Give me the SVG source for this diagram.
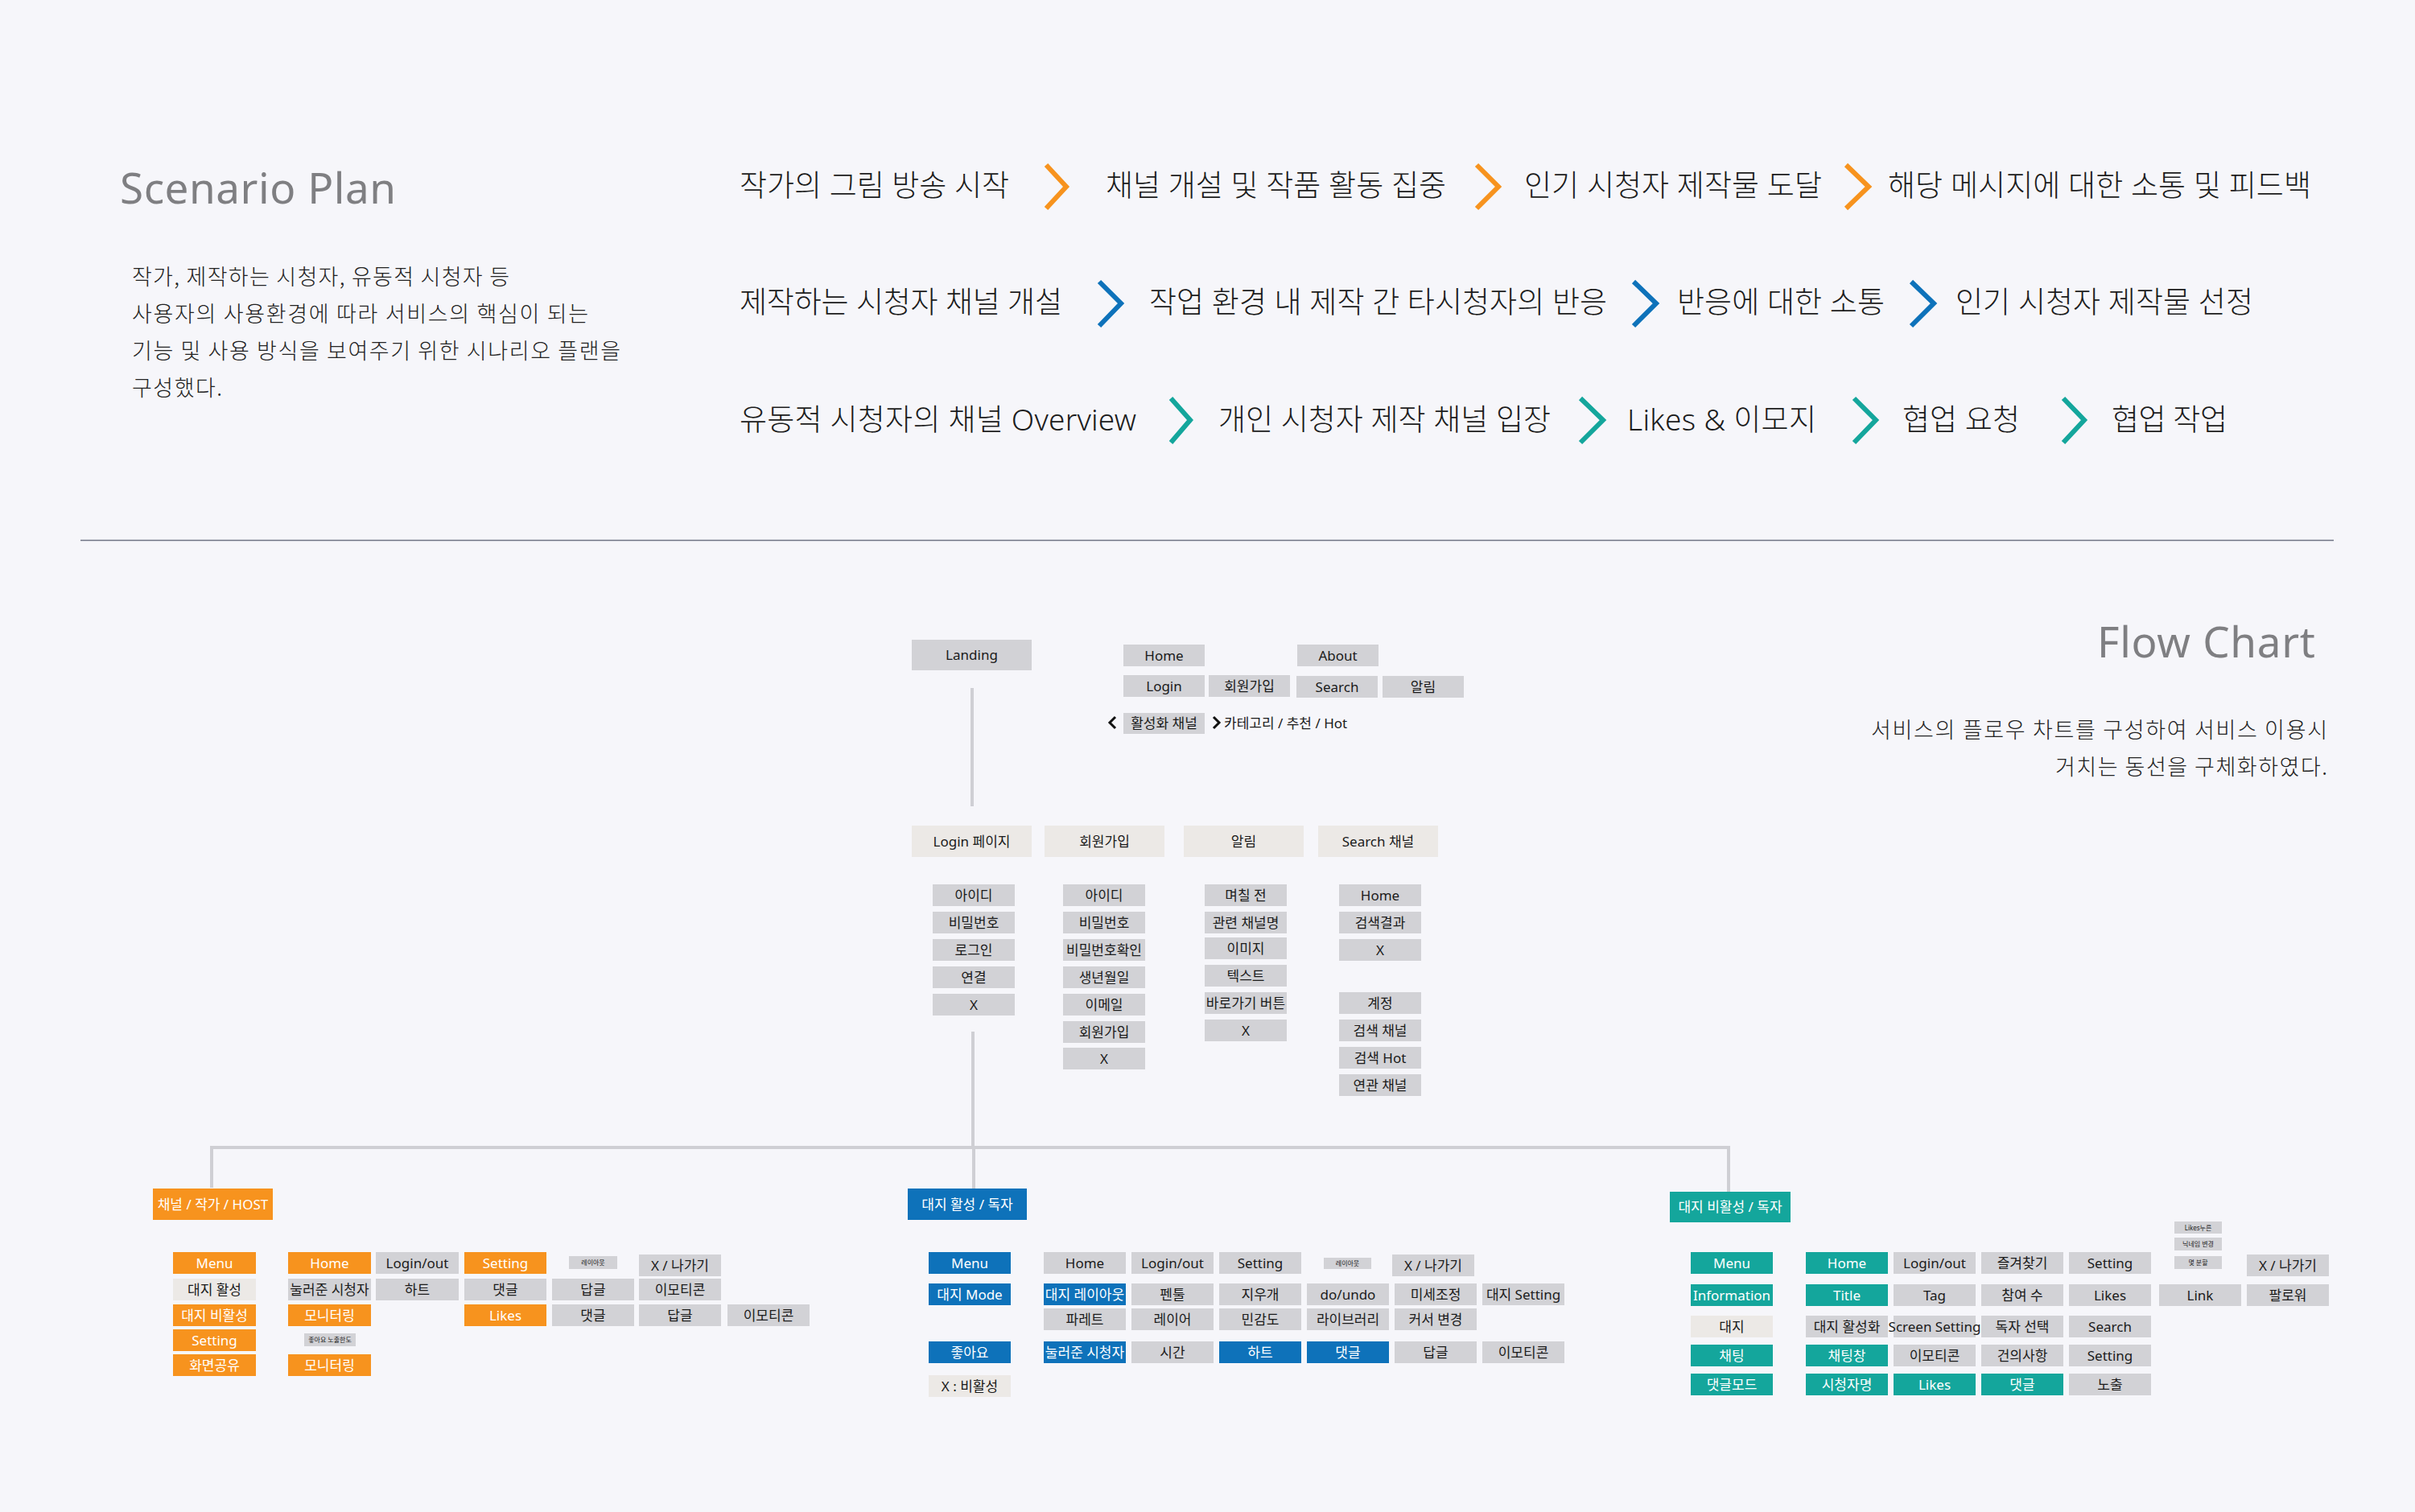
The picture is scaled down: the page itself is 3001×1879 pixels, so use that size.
<svg xmlns="http://www.w3.org/2000/svg" width="3001" height="1879" viewBox="0 0 3001 1879">
<style>
  .ttl{font-family:'Noto Sans','Open Sans','Noto Sans CJK KR',sans-serif;font-size:53px;fill:#7f7f82}
  .par{font-family:'Noto Sans CJK KR','Noto Sans',sans-serif;font-size:27px;font-weight:300;fill:#222}
  .scn{font-family:'Noto Sans','Noto Sans CJK KR',sans-serif;font-size:37px;font-weight:300;fill:#1c1c1c}
  .chev{fill:none;stroke-width:6;stroke-linecap:butt;stroke-linejoin:miter}
  .c-or{stroke:#F7931E}.c-bl{stroke:#0E72BA}.c-te{stroke:#14A69C}
  .gr{fill:#D2D2D6}.be{fill:#ECE9E6}.or{fill:#F7931E}.bl{fill:#0E72BA}.te{fill:#14A69C}
  .l{font-family:'Noto Sans','Noto Sans CJK KR',sans-serif;font-size:17px;text-anchor:middle;fill:#1b1b1b}
  .w{fill:#fff}
  .s{font-size:8px}
  .conn{fill:none;stroke:#CFCFD4;stroke-width:4}
</style>
<rect width="3001" height="1879" fill="#F6F6FA"/>

<!-- Scenario plan block -->
<text class="ttl" x="149" y="253" textLength="343">Scenario Plan</text>
<g id="scenario-desc">
  <text class="par" x="164" y="354" textLength="469">작가, 제작하는 시청자, 유동적 시청자 등</text>
  <text class="par" x="164" y="400" textLength="567">사용자의 사용환경에 따라 서비스의 핵심이 되는</text>
  <text class="par" x="164" y="446" textLength="607">기능 및 사용 방식을 보여주기 위한 시나리오 플랜을</text>
  <text class="par" x="164" y="492" textLength="112">구성했다.</text>
</g>

<g id="scenario-rows">
  <text class="scn" x="919" y="244" textLength="335">작가의 그림 방송 시작</text>
  <text class="scn" x="1374" y="244" textLength="423">채널 개설 및 작품 활동 집중</text>
  <text class="scn" x="1894" y="244" textLength="370">인기 시청자 제작물 도달</text>
  <text class="scn" x="2346" y="244" textLength="526">해당 메시지에 대한 소통 및 피드백</text>

  <text class="scn" x="919" y="389" textLength="401">제작하는 시청자 채널 개설</text>
  <text class="scn" x="1428" y="389" textLength="569">작업 환경 내 제작 간 타시청자의 반응</text>
  <text class="scn" x="2084" y="389" textLength="258">반응에 대한 소통</text>
  <text class="scn" x="2430" y="389" textLength="370">인기 시청자 제작물 선정</text>

  <text class="scn" x="919" y="535" textLength="493">유동적 시청자의 채널 Overview</text>
  <text class="scn" x="1514" y="535" textLength="413">개인 시청자 제작 채널 입장</text>
  <text class="scn" x="2022" y="535" textLength="235">Likes &amp; 이모지</text>
  <text class="scn" x="2364" y="535" textLength="146">협업 요청</text>
  <text class="scn" x="2624" y="535" textLength="144">협업 작업</text>
</g>

<g id="scenario-chevrons">
  <polyline class="chev c-or" points="1300,205 1325,232 1300,259"/>
  <polyline class="chev c-or" points="1835,205 1862,232 1835,259"/>
  <polyline class="chev c-or" points="2294,205 2322,232 2294,259"/>

  <polyline class="chev c-bl" points="1366,350 1393,377 1366,405"/>
  <polyline class="chev c-bl" points="2030,350 2058,377 2030,405"/>
  <polyline class="chev c-bl" points="2375,350 2403,377 2375,405"/>

  <polyline class="chev c-te" points="1455,495 1479,522 1455,550"/>
  <polyline class="chev c-te" points="1964,495 1992,522 1964,550"/>
  <polyline class="chev c-te" points="2304,495 2331,522 2304,550"/>
  <polyline class="chev c-te" points="2564,495 2590,522 2564,550"/>
</g>

<line x1="100" y1="671.5" x2="2900" y2="671.5" stroke="#6E7383" stroke-width="1.5"/>

<!-- Flow chart block -->
<text class="ttl" x="2877" y="817" text-anchor="end" font-size="54" textLength="271">Flow Chart</text>
<g id="flow-desc">
  <text class="par" x="2892" y="917" text-anchor="end" textLength="567">서비스의 플로우 차트를 구성하여 서비스 이용시</text>
  <text class="par" x="2892" y="963" text-anchor="end" textLength="338">거치는 동선을 구체화하였다.</text>
</g>

<g id="connectors">
  <line class="conn" x1="1208" y1="855" x2="1208" y2="1002"/>
  <line class="conn" x1="1209" y1="1282" x2="1209" y2="1426"/>
  <path class="conn" d="M263,1476 V1426 H2148 V1481"/>
  <line class="conn" x1="1210" y1="1426" x2="1210" y2="1477"/>
</g>

<!-- landing / top navigation -->
<g id="landing"><rect class="gr" x="1133" y="795" width="149" height="38"/><text class="l" x="1207.5" y="820">Landing</text></g>
<g id="nav-home"><rect class="gr" x="1396" y="801" width="101" height="27"/><text class="l" x="1446.5" y="820.5">Home</text></g>
<g id="nav-about"><rect class="gr" x="1612" y="801" width="101" height="27"/><text class="l" x="1662.5" y="820.5">About</text></g>
<g id="nav-login"><rect class="gr" x="1396" y="839" width="101" height="27"/><text class="l" x="1446.5" y="858.5">Login</text></g>
<g id="nav-join"><rect class="gr" x="1502" y="839" width="101" height="27"/><text class="l" x="1552.5" y="858.5">회원가입</text></g>
<g id="nav-search"><rect class="gr" x="1611" y="840" width="101" height="27"/><text class="l" x="1661.5" y="859.5">Search</text></g>
<g id="nav-alarm"><rect class="gr" x="1718" y="840" width="101" height="27"/><text class="l" x="1768.5" y="859.5">알림</text></g>
<g id="nav-channel">
  <polyline points="1386,891 1379,898 1386,905" fill="none" stroke="#111" stroke-width="3"/>
  <rect class="gr" x="1396" y="886" width="101" height="26"/><text class="l" x="1446.5" y="905">활성화 채널</text>
  <polyline points="1508,891 1515,898 1508,905" fill="none" stroke="#111" stroke-width="3"/>
  <text class="l" x="1521" y="905" style="text-anchor:start">카테고리 / 추천 / Hot</text>
</g>

<!-- page headers -->
<g id="h-login"><rect class="be" x="1133" y="1026" width="149" height="39"/><text class="l" x="1207.5" y="1051.5">Login 페이지</text></g>
<g id="h-join"><rect class="be" x="1298" y="1026" width="149" height="39"/><text class="l" x="1372.5" y="1051.5">회원가입</text></g>
<g id="h-alarm"><rect class="be" x="1471" y="1026" width="149" height="39"/><text class="l" x="1545.5" y="1051.5">알림</text></g>
<g id="h-search"><rect class="be" x="1638" y="1026" width="149" height="39"/><text class="l" x="1712.5" y="1051.5">Search 채널</text></g>

<!-- login page items -->
<g id="lg-1"><rect class="gr" x="1159" y="1099" width="102" height="27"/><text class="l" x="1210" y="1118.5">아이디</text></g>
<g id="lg-2"><rect class="gr" x="1159" y="1133" width="102" height="27"/><text class="l" x="1210" y="1152.5">비밀번호</text></g>
<g id="lg-3"><rect class="gr" x="1159" y="1167" width="102" height="27"/><text class="l" x="1210" y="1186.5">로그인</text></g>
<g id="lg-4"><rect class="gr" x="1159" y="1201" width="102" height="27"/><text class="l" x="1210" y="1220.5">연결</text></g>
<g id="lg-5"><rect class="gr" x="1159" y="1235" width="102" height="27"/><text class="l" x="1210" y="1254.5">X</text></g>

<!-- join items -->
<g id="jn-1"><rect class="gr" x="1321" y="1099" width="102" height="27"/><text class="l" x="1372" y="1118.5">아이디</text></g>
<g id="jn-2"><rect class="gr" x="1321" y="1133" width="102" height="27"/><text class="l" x="1372" y="1152.5">비밀번호</text></g>
<g id="jn-3"><rect class="gr" x="1321" y="1167" width="102" height="27"/><text class="l" x="1372" y="1186.5">비밀번호확인</text></g>
<g id="jn-4"><rect class="gr" x="1321" y="1201" width="102" height="27"/><text class="l" x="1372" y="1220.5">생년월일</text></g>
<g id="jn-5"><rect class="gr" x="1321" y="1235" width="102" height="27"/><text class="l" x="1372" y="1254.5">이메일</text></g>
<g id="jn-6"><rect class="gr" x="1321" y="1269" width="102" height="27"/><text class="l" x="1372" y="1288.5">회원가입</text></g>
<g id="jn-7"><rect class="gr" x="1321" y="1302" width="102" height="27"/><text class="l" x="1372" y="1321.5">X</text></g>

<!-- alarm items -->
<g id="al-1"><rect class="gr" x="1497" y="1099" width="102" height="27"/><text class="l" x="1548" y="1118.5">며칠 전</text></g>
<g id="al-2"><rect class="gr" x="1497" y="1133" width="102" height="27"/><text class="l" x="1548" y="1152.5">관련 채널명</text></g>
<g id="al-3"><rect class="gr" x="1497" y="1165" width="102" height="27"/><text class="l" x="1548" y="1184.5">이미지</text></g>
<g id="al-4"><rect class="gr" x="1497" y="1199" width="102" height="27"/><text class="l" x="1548" y="1218.5">텍스트</text></g>
<g id="al-5"><rect class="gr" x="1497" y="1233" width="102" height="27"/><text class="l" x="1548" y="1252.5">바로가기 버튼</text></g>
<g id="al-6"><rect class="gr" x="1497" y="1267" width="102" height="27"/><text class="l" x="1548" y="1286.5">X</text></g>

<!-- search items -->
<g id="sc-1"><rect class="gr" x="1664" y="1099" width="102" height="27"/><text class="l" x="1715" y="1118.5">Home</text></g>
<g id="sc-2"><rect class="gr" x="1664" y="1133" width="102" height="27"/><text class="l" x="1715" y="1152.5">검색결과</text></g>
<g id="sc-3"><rect class="gr" x="1664" y="1167" width="102" height="27"/><text class="l" x="1715" y="1186.5">X</text></g>
<g id="sc-4"><rect class="gr" x="1664" y="1233" width="102" height="27"/><text class="l" x="1715" y="1252.5">계정</text></g>
<g id="sc-5"><rect class="gr" x="1664" y="1267" width="102" height="27"/><text class="l" x="1715" y="1286.5">검색 채널</text></g>
<g id="sc-6"><rect class="gr" x="1664" y="1301" width="102" height="27"/><text class="l" x="1715" y="1320.5">검색 Hot</text></g>
<g id="sc-7"><rect class="gr" x="1664" y="1335" width="102" height="27"/><text class="l" x="1715" y="1354.5">연관 채널</text></g>

<!-- channel / author / host -->
<g id="o-head"><rect class="or" x="190" y="1477" width="149" height="39"/><text class="l w" x="264.5" y="1502.5">채널 / 작가 / HOST</text></g>
<g id="o-menu"><rect class="or" x="215" y="1556" width="103" height="27"/><text class="l w" x="266.5" y="1575.5">Menu</text></g>
<g id="o-home"><rect class="or" x="358" y="1556" width="103" height="27"/><text class="l w" x="409.5" y="1575.5">Home</text></g>
<g id="o-login"><rect class="gr" x="467" y="1556" width="103" height="27"/><text class="l" x="518.5" y="1575.5">Login/out</text></g>
<g id="o-setting"><rect class="or" x="577" y="1556" width="102" height="27"/><text class="l w" x="628" y="1575.5">Setting</text></g>
<g id="o-layout"><rect class="gr" x="707" y="1561" width="60" height="16"/><text class="l s" x="737" y="1572">레이아웃</text></g>
<g id="o-exit"><rect class="gr" x="794" y="1559" width="102" height="27"/><text class="l" x="845" y="1578.5">X / 나가기</text></g>

<g id="o-active"><rect class="be" x="215" y="1589" width="103" height="27"/><text class="l" x="266.5" y="1608.5">대지 활성</text></g>
<g id="o-viewers"><rect class="gr" x="358" y="1589" width="103" height="27"/><text class="l" x="409.5" y="1608.5">눌러준 시청자</text></g>
<g id="o-heart"><rect class="gr" x="467" y="1589" width="103" height="27"/><text class="l" x="518.5" y="1608.5">하트</text></g>
<g id="o-comment"><rect class="gr" x="577" y="1589" width="102" height="27"/><text class="l" x="628" y="1608.5">댓글</text></g>
<g id="o-reply"><rect class="gr" x="686" y="1589" width="102" height="27"/><text class="l" x="737" y="1608.5">답글</text></g>
<g id="o-emoji"><rect class="gr" x="794" y="1589" width="102" height="27"/><text class="l" x="845" y="1608.5">이모티콘</text></g>

<g id="o-inactive"><rect class="or" x="215" y="1621" width="103" height="27"/><text class="l w" x="266.5" y="1640.5">대지 비활성</text></g>
<g id="o-monitor1"><rect class="or" x="358" y="1621" width="103" height="27"/><text class="l w" x="409.5" y="1640.5">모니터링</text></g>
<g id="o-likes"><rect class="or" x="577" y="1621" width="102" height="27"/><text class="l w" x="628" y="1640.5">Likes</text></g>
<g id="o-likes-comment"><rect class="gr" x="686" y="1621" width="102" height="27"/><text class="l" x="737" y="1640.5">댓글</text></g>
<g id="o-likes-reply"><rect class="gr" x="794" y="1621" width="102" height="27"/><text class="l" x="845" y="1640.5">답글</text></g>
<g id="o-likes-emoji"><rect class="gr" x="904" y="1621" width="102" height="27"/><text class="l" x="955" y="1640.5">이모티콘</text></g>

<g id="o-setting2"><rect class="or" x="215" y="1652" width="103" height="27"/><text class="l w" x="266.5" y="1671.5">Setting</text></g>
<g id="o-like-limit"><rect class="gr" x="378" y="1657" width="64" height="16"/><text class="l s" x="410" y="1668">좋아요 노출한도</text></g>
<g id="o-share"><rect class="or" x="215" y="1683" width="103" height="27"/><text class="l w" x="266.5" y="1702.5">화면공유</text></g>
<g id="o-monitor2"><rect class="or" x="358" y="1683" width="103" height="27"/><text class="l w" x="409.5" y="1702.5">모니터링</text></g>

<!-- canvas active / reader -->
<g id="b-head"><rect class="bl" x="1128" y="1477" width="148" height="39"/><text class="l w" x="1202" y="1502.5">대지 활성 / 독자</text></g>
<g id="b-menu"><rect class="bl" x="1154" y="1556" width="102" height="27"/><text class="l w" x="1205" y="1575.5">Menu</text></g>
<g id="b-home"><rect class="gr" x="1297" y="1556" width="102" height="27"/><text class="l" x="1348" y="1575.5">Home</text></g>
<g id="b-login"><rect class="gr" x="1406" y="1556" width="102" height="27"/><text class="l" x="1457" y="1575.5">Login/out</text></g>
<g id="b-setting"><rect class="gr" x="1515" y="1556" width="102" height="27"/><text class="l" x="1566" y="1575.5">Setting</text></g>
<g id="b-layout"><rect class="gr" x="1645" y="1563" width="59" height="14"/><text class="l s" x="1674.5" y="1573">레이아웃</text></g>
<g id="b-exit"><rect class="gr" x="1730" y="1559" width="102" height="27"/><text class="l" x="1781" y="1578.5">X / 나가기</text></g>

<g id="b-mode"><rect class="bl" x="1154" y="1595" width="102" height="27"/><text class="l w" x="1205" y="1614.5">대지 Mode</text></g>
<g id="b-canvas-layout"><rect class="bl" x="1297" y="1595" width="102" height="27"/><text class="l w" x="1348" y="1614.5">대지 레이아웃</text></g>
<g id="b-pen"><rect class="gr" x="1406" y="1595" width="102" height="27"/><text class="l" x="1457" y="1614.5">펜툴</text></g>
<g id="b-eraser"><rect class="gr" x="1515" y="1595" width="102" height="27"/><text class="l" x="1566" y="1614.5">지우개</text></g>
<g id="b-undo"><rect class="gr" x="1624" y="1595" width="102" height="27"/><text class="l" x="1675" y="1614.5">do/undo</text></g>
<g id="b-fine"><rect class="gr" x="1733" y="1595" width="102" height="27"/><text class="l" x="1784" y="1614.5">미세조정</text></g>
<g id="b-canvas-setting"><rect class="gr" x="1842" y="1595" width="102" height="27"/><text class="l" x="1893" y="1614.5">대지 Setting</text></g>

<g id="b-palette"><rect class="gr" x="1297" y="1626" width="102" height="27"/><text class="l" x="1348" y="1645.5">파레트</text></g>
<g id="b-layer"><rect class="gr" x="1406" y="1626" width="102" height="27"/><text class="l" x="1457" y="1645.5">레이어</text></g>
<g id="b-sense"><rect class="gr" x="1515" y="1626" width="102" height="27"/><text class="l" x="1566" y="1645.5">민감도</text></g>
<g id="b-library"><rect class="gr" x="1624" y="1626" width="102" height="27"/><text class="l" x="1675" y="1645.5">라이브러리</text></g>
<g id="b-cursor"><rect class="gr" x="1733" y="1626" width="102" height="27"/><text class="l" x="1784" y="1645.5">커서 변경</text></g>

<g id="b-like"><rect class="bl" x="1154" y="1667" width="102" height="27"/><text class="l w" x="1205" y="1686.5">좋아요</text></g>
<g id="b-viewers"><rect class="bl" x="1297" y="1667" width="102" height="27"/><text class="l w" x="1348" y="1686.5">눌러준 시청자</text></g>
<g id="b-time"><rect class="gr" x="1406" y="1667" width="102" height="27"/><text class="l" x="1457" y="1686.5">시간</text></g>
<g id="b-heart"><rect class="bl" x="1515" y="1667" width="102" height="27"/><text class="l w" x="1566" y="1686.5">하트</text></g>
<g id="b-comment"><rect class="bl" x="1624" y="1667" width="102" height="27"/><text class="l w" x="1675" y="1686.5">댓글</text></g>
<g id="b-reply"><rect class="gr" x="1733" y="1667" width="102" height="27"/><text class="l" x="1784" y="1686.5">답글</text></g>
<g id="b-emoji"><rect class="gr" x="1842" y="1667" width="102" height="27"/><text class="l" x="1893" y="1686.5">이모티콘</text></g>

<g id="b-off"><rect class="be" x="1154" y="1709" width="102" height="27"/><text class="l" x="1205" y="1728.5">X : 비활성</text></g>

<!-- canvas inactive / reader -->
<g id="t-head"><rect class="te" x="2075" y="1481" width="150" height="38"/><text class="l w" x="2150" y="1506">대지 비활성 / 독자</text></g>
<g id="t-menu"><rect class="te" x="2101" y="1556" width="102" height="27"/><text class="l w" x="2152" y="1575.5">Menu</text></g>
<g id="t-home"><rect class="te" x="2244" y="1556" width="102" height="27"/><text class="l w" x="2295" y="1575.5">Home</text></g>
<g id="t-login"><rect class="gr" x="2353" y="1556" width="102" height="27"/><text class="l" x="2404" y="1575.5">Login/out</text></g>
<g id="t-fav"><rect class="gr" x="2462" y="1556" width="102" height="27"/><text class="l" x="2513" y="1575.5">즐겨찾기</text></g>
<g id="t-setting"><rect class="gr" x="2571" y="1556" width="102" height="27"/><text class="l" x="2622" y="1575.5">Setting</text></g>
<g id="t-liked"><rect class="gr" x="2702" y="1518" width="59" height="15"/><text class="l s" x="2731.5" y="1528.5">Likes누른</text></g>
<g id="t-nick"><rect class="gr" x="2702" y="1538" width="59" height="16"/><text class="l s" x="2731.5" y="1549">닉네임 변경</text></g>
<g id="t-split"><rect class="gr" x="2702" y="1561" width="59" height="16"/><text class="l s" x="2731.5" y="1572">몇 분할</text></g>
<g id="t-exit"><rect class="gr" x="2792" y="1559" width="102" height="27"/><text class="l" x="2843" y="1578.5">X / 나가기</text></g>

<g id="t-info"><rect class="te" x="2101" y="1596" width="102" height="27"/><text class="l w" x="2152" y="1615.5">Information</text></g>
<g id="t-title"><rect class="te" x="2244" y="1596" width="102" height="27"/><text class="l w" x="2295" y="1615.5">Title</text></g>
<g id="t-tag"><rect class="gr" x="2353" y="1596" width="102" height="27"/><text class="l" x="2404" y="1615.5">Tag</text></g>
<g id="t-count"><rect class="gr" x="2462" y="1596" width="102" height="27"/><text class="l" x="2513" y="1615.5">참여 수</text></g>
<g id="t-likes"><rect class="gr" x="2571" y="1596" width="102" height="27"/><text class="l" x="2622" y="1615.5">Likes</text></g>
<g id="t-link"><rect class="gr" x="2683" y="1596" width="102" height="27"/><text class="l" x="2734" y="1615.5">Link</text></g>
<g id="t-follow"><rect class="gr" x="2792" y="1596" width="102" height="27"/><text class="l" x="2843" y="1615.5">팔로워</text></g>

<g id="t-canvas"><rect class="be" x="2101" y="1635" width="102" height="27"/><text class="l" x="2152" y="1654.5">대지</text></g>
<g id="t-activate"><rect class="gr" x="2244" y="1635" width="102" height="27"/><text class="l" x="2295" y="1654.5">대지 활성화</text></g>
<g id="t-screen"><rect class="gr" x="2353" y="1635" width="102" height="27"/><text class="l" x="2404" y="1654.5">Screen Setting</text></g>
<g id="t-pick"><rect class="gr" x="2462" y="1635" width="102" height="27"/><text class="l" x="2513" y="1654.5">독자 선택</text></g>
<g id="t-search"><rect class="gr" x="2571" y="1635" width="102" height="27"/><text class="l" x="2622" y="1654.5">Search</text></g>

<g id="t-chat"><rect class="te" x="2101" y="1671" width="102" height="27"/><text class="l w" x="2152" y="1690.5">채팅</text></g>
<g id="t-chatwin"><rect class="te" x="2244" y="1671" width="102" height="27"/><text class="l w" x="2295" y="1690.5">채팅창</text></g>
<g id="t-emoji"><rect class="gr" x="2353" y="1671" width="102" height="27"/><text class="l" x="2404" y="1690.5">이모티콘</text></g>
<g id="t-suggest"><rect class="gr" x="2462" y="1671" width="102" height="27"/><text class="l" x="2513" y="1690.5">건의사항</text></g>
<g id="t-setting2"><rect class="gr" x="2571" y="1671" width="102" height="27"/><text class="l" x="2622" y="1690.5">Setting</text></g>

<g id="t-cmode"><rect class="te" x="2101" y="1707" width="102" height="27"/><text class="l w" x="2152" y="1726.5">댓글모드</text></g>
<g id="t-viewer"><rect class="te" x="2244" y="1707" width="102" height="27"/><text class="l w" x="2295" y="1726.5">시청자명</text></g>
<g id="t-clikes"><rect class="te" x="2353" y="1707" width="102" height="27"/><text class="l w" x="2404" y="1726.5">Likes</text></g>
<g id="t-comment"><rect class="te" x="2462" y="1707" width="102" height="27"/><text class="l w" x="2513" y="1726.5">댓글</text></g>
<g id="t-expose"><rect class="gr" x="2571" y="1707" width="102" height="27"/><text class="l" x="2622" y="1726.5">노출</text></g>
</svg>
